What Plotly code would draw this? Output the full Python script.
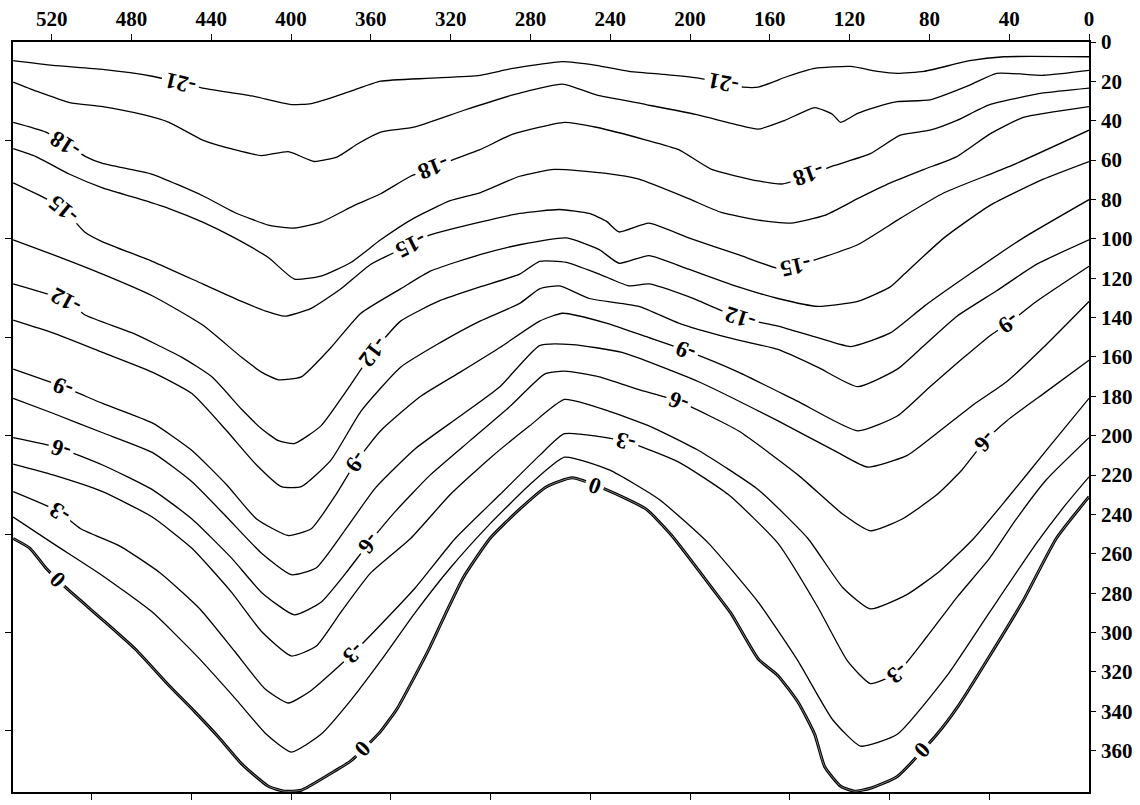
import math
import numpy as np
import plotly.graph_objects as go

# Contour levels drawn on the section (every 1.5, labelled every 3)
levels = [-21, -19.5, -18, -16.5, -15, -13.5, -12, -10.5, -9, -7.5, -6, -4.5, -3, -1.5, 0]

# Each contour: distance along the section and depth
dist_m21 = [539.3, 519.4, 494.5, 469.6, 444.3, 419.8, 399.9, 389.9, 378.5, 368.5, 355.1, 330.2, 305.3, 288.8, 263.9, 247, 230.6, 214.1, 195.7, 173.3, 165.8, 150.9, 137.5, 119.5, 106.1, 96.1, 82.7, 59.8, 42.8, 0]
depth_m21 = [9.5, 11.9, 13.9, 17.4, 23.4, 27.4, 31.8, 31.3, 27.9, 24.4, 19.9, 18.4, 16.9, 13.4, 10, 11.9, 14.9, 16.4, 18.4, 22.9, 22.9, 17.4, 13.4, 12.4, 14.9, 15.9, 14.9, 9.5, 7.5, 7.5]

dist_m195 = [539.3, 527.9, 511, 494.5, 474.6, 461.2, 444.3, 428.3, 414.8, 401.4, 388.4, 376.5, 366.5, 355.1, 338.6, 313.7, 288.8, 263.9, 247, 222, 197.2, 177.3, 165.8, 152.4, 137.5, 128.5, 124.5, 116, 107.6, 96.1, 79.7, 59.8, 46.3, 22.9, 0]
depth_m195 = [20.4, 24.9, 30.8, 32.8, 36.8, 40.8, 49.8, 54.7, 57.7, 55.7, 60.7, 58.2, 51.7, 45.8, 43.3, 34.8, 26.9, 21.4, 26.9, 31.8, 36.8, 41.8, 44.3, 39.8, 33.3, 36.8, 40.8, 36.3, 33.3, 30.3, 29.4, 21.9, 15.9, 16.9, 14.4]

dist_m18 = [539.3, 522.9, 503, 494.5, 469.6, 444.3, 428.3, 411.4, 398.4, 385, 368.5, 355.1, 340.1, 318.7, 305.3, 288.8, 262.9, 247, 222, 205.7, 189.2, 165.8, 153.4, 127.5, 109.6, 94.6, 79.7, 66.2, 49.8, 22.9, 0]
depth_m18 = [40.8, 45.8, 58.2, 61.7, 67.2, 78.1, 86.6, 93, 94.5, 91.5, 83.1, 77.1, 68.2, 59.7, 54.7, 46.8, 40.8, 43.3, 49.8, 54.7, 64.7, 70.6, 72.1, 62.7, 56.7, 47.3, 44.8, 39.8, 31.8, 25.9, 23.4]

dist_m165 = [539.3, 527.9, 511, 494.5, 478, 461.2, 444.3, 428.3, 411.4, 398.4, 385, 370, 355.1, 338.6, 320.2, 305.3, 285.4, 268, 242, 225.6, 200.7, 184.3, 165.8, 149.4, 132.5, 116, 99.6, 82.7, 66.2, 49.8, 32.9, 0]
depth_m165 = [54.2, 58.2, 67.2, 74.1, 79.1, 84.6, 91.5, 99.5, 109.5, 120.4, 118.9, 112, 100.5, 89.6, 80.6, 76.6, 68.2, 64.7, 66.7, 69.7, 79.6, 86.6, 90.5, 92, 88.1, 79.6, 71.6, 64.7, 58.2, 46.8, 38.3, 32.8]

dist_m15 = [539.3, 522.9, 513.4, 503.5, 494.5, 469.6, 444.3, 424.8, 412.4, 403.4, 389.9, 375, 360, 340.1, 330.2, 305.3, 285.4, 265.4, 250.5, 242, 235.6, 220.6, 200.7, 175.8, 155.9, 147.4, 139.4, 116, 94.6, 72.7, 39.8, 0]
depth_m15 = [71.6, 79.6, 85.6, 96.5, 101.5, 111.4, 122.9, 131.8, 136.8, 139.3, 135.3, 125.4, 112.9, 103, 98, 91.5, 87.1, 85.1, 87.1, 91, 96.5, 92, 99.5, 108, 115, 114, 111.4, 103, 89.6, 76.6, 63.2, 44.8]

dist_m135 = [539.3, 519.4, 494.5, 469.6, 444.3, 424.8, 414.8, 406.4, 394.9, 380, 365, 345.1, 330.2, 305.3, 285.4, 262, 245.5, 235.6, 220.6, 200.7, 175.8, 155.9, 136, 116, 99.6, 92.6, 72.7, 49.8, 22.9, 0]
depth_m135 = [100.5, 108, 117.9, 128.9, 143.8, 160.2, 167.7, 171.6, 170.1, 155.2, 137.8, 125.4, 116.4, 108, 103, 99.5, 105.5, 112.4, 108.5, 115.4, 124.4, 130.3, 134.3, 131.8, 124.4, 117.9, 99.5, 83.1, 69.7, 60.7]

dist_m12 = [539.3, 513, 503, 479.6, 454.7, 439.7, 424.8, 414.8, 406.4, 398.4, 385, 372.5, 359, 345.1, 325.2, 305.3, 285.4, 275.4, 262, 245.5, 230.6, 220.6, 200.7, 174.8, 155.9, 136, 119.5, 99.6, 82.7, 59.8, 32.9, 0]
depth_m12 = [122.9, 131.3, 138.8, 147.8, 160.2, 170.1, 186.6, 196.5, 202.5, 204, 195, 177.6, 157.7, 141.8, 131.3, 124.4, 117.9, 111.4, 111.9, 117.9, 123.9, 122.9, 129.4, 140.3, 144.3, 150.2, 154.7, 147.8, 134.3, 117.9, 99.5, 80.1]

dist_m105 = [539.3, 519.4, 494.5, 469.6, 449.7, 432.3, 417.3, 404.9, 394.9, 380, 365, 345.1, 325.2, 305.3, 285.4, 275.4, 265.4, 250.5, 225.6, 205.7, 180.8, 155.9, 136, 116, 96.1, 82.7, 66.2, 46.3, 26.4, 0]
depth_m105 = [141.3, 147.8, 157.7, 167.7, 178.6, 197.5, 214.9, 225.9, 225.9, 212.4, 187.6, 165.2, 152.7, 141.8, 132.8, 125.4, 123.9, 130.3, 134.3, 142.8, 150.2, 156.2, 165.2, 175.1, 166.2, 154.2, 139.3, 126.4, 113, 100.5]

dist_m9 = [539.3, 514.4, 494.5, 469.6, 449.7, 432.3, 417.3, 401.4, 389.9, 377.5, 367.5, 355.1, 335.2, 315.2, 295.3, 275.4, 263.9, 242, 220.6, 202.2, 175.8, 145.9, 116, 96.1, 79.7, 62.7, 49.8, 40.3, 26.4, 0]
depth_m9 = [166.2, 175.1, 183.6, 193.5, 207.5, 224.9, 242.3, 250.7, 247.3, 229.9, 213.4, 197.5, 180.1, 167.7, 155.2, 141.8, 137.8, 142.8, 150.2, 156.7, 167.7, 182.6, 197.5, 190, 175.1, 160.2, 149.3, 142.8, 131.8, 113.9]

dist_m75 = [539.3, 519.4, 494.5, 469.6, 449.7, 432.3, 414.8, 399.9, 387.5, 372.5, 357.6, 337.6, 315.2, 295.3, 275.4, 259, 234.1, 195.7, 155.9, 126, 111.1, 91.1, 74.7, 57.8, 41.3, 22.9, 0]
depth_m75 = [181, 188.6, 198.5, 208.5, 223.4, 241.3, 259.7, 270.6, 267.2, 247.3, 226.4, 206.5, 190, 175.1, 154.2, 153.7, 157.7, 172.6, 192.5, 208.5, 215.9, 210, 197.5, 184.1, 172.6, 155.2, 131.8]

dist_m6 = [539.3, 516.9, 494.5, 469.6, 449.7, 429.8, 414.8, 398.4, 385, 372.5, 361.1, 347.6, 330.2, 310.3, 290.3, 272.9, 262.9, 245.5, 225.6, 205.7, 175.8, 145.9, 123.5, 109.6, 93.6, 76.2, 63.7, 52.3, 41.3, 21.4, 0]
depth_m6 = [201, 206, 214.9, 227.4, 242.3, 262.2, 279.6, 291, 284.6, 269.7, 254.7, 238.3, 219.9, 202.5, 185.1, 168.7, 167.2, 170.1, 176.6, 182.6, 197.5, 219.9, 239.8, 248.3, 242.3, 229.9, 217.4, 202.9, 192.5, 177.6, 161.7]

dist_m45 = [539.3, 519.4, 494.5, 469.6, 449.7, 429.8, 414.8, 399.9, 387.5, 375, 360.1, 340.1, 320.2, 300.3, 280.4, 262.9, 240.5, 220.6, 195.7, 165.8, 140.9, 123.5, 109.6, 91.1, 74.7, 57.8, 41.3, 21.4, 0]
depth_m45 = [214.4, 219.9, 228.4, 241.3, 257.2, 279.6, 299.5, 311.9, 307, 289.6, 269.7, 252.2, 229.9, 211.4, 195, 181.6, 187.6, 195, 207.5, 227.4, 252.2, 277.1, 288, 280.6, 268.7, 252.2, 232.3, 207.5, 181]

dist_m3 = [539.3, 516.9, 505.5, 485.6, 465.6, 445.7, 428.3, 413.3, 401.4, 389.9, 370.5, 355.1, 337.6, 317.7, 295.3, 275.4, 262.9, 232, 205.7, 180.8, 155.9, 136, 121.1, 109.6, 96.1, 81.2, 66.2, 49.8, 36.4, 21.4, 0]
depth_m3 = [228.4, 238.3, 247.3, 256.2, 269.7, 288, 309.5, 328.4, 335.8, 329.4, 311.9, 296, 277.1, 252.2, 229.9, 210, 199, 203, 213.4, 229.9, 254.7, 287, 314.4, 325.9, 320.4, 302, 282.1, 262.2, 242.3, 222.4, 201]

dist_m15b = [539.3, 519.4, 494.5, 469.6, 447.2, 427.3, 412.4, 399.9, 385, 370, 355.1, 337.6, 320.2, 300.3, 280.4, 262.9, 240.5, 215.6, 190.7, 165.8, 145.9, 128.5, 114.5, 96.1, 71.2, 49.8, 26.4, 11.5, 0]
depth_m15b = [241.3, 254.7, 271.1, 289.6, 312, 334.3, 351.7, 360.7, 351.7, 334.3, 314.4, 289.6, 267.2, 244.8, 224.9, 210.9, 217.4, 232.3, 254.7, 284.6, 314.4, 344.3, 357.7, 351.7, 321.9, 289.6, 254.7, 234.8, 220.9]

dist_0 = [539.3, 530.9, 522.9, 513, 494.5, 478, 461.2, 448.2, 436.3, 424.8, 411.4, 403.4, 394.9, 378.5, 370, 355.1, 346.6, 338.6, 330.2, 321.7, 313.7, 300.3, 285.4, 271.9, 259, 242, 222, 209.2, 189.2, 179.3, 165.8, 155.9, 145.9, 137.5, 132.5, 124.5, 117.5, 109.6, 96.1, 76.2, 66.2, 49.8, 32.9, 16.4, 0]
depth_0 = [252.2, 257.2, 267.2, 277.1, 293.5, 308.5, 326.9, 340.3, 353.2, 366.7, 378.1, 380.6, 380.1, 370.6, 365.2, 350.2, 338.3, 323.4, 307, 288.6, 272.1, 252.2, 237.3, 225.9, 221.4, 227.4, 237.3, 250.7, 277.1, 290.5, 313.4, 321.9, 335.3, 351.7, 368.2, 378.1, 380.6, 379.1, 373.1, 351.7, 338.3, 311.9, 283.6, 252.2, 231]

contours = {
    -21: (dist_m21, depth_m21),
    -19.5: (dist_m195, depth_m195),
    -18: (dist_m18, depth_m18),
    -16.5: (dist_m165, depth_m165),
    -15: (dist_m15, depth_m15),
    -13.5: (dist_m135, depth_m135),
    -12: (dist_m12, depth_m12),
    -10.5: (dist_m105, depth_m105),
    -9: (dist_m9, depth_m9),
    -7.5: (dist_m75, depth_m75),
    -6: (dist_m6, depth_m6),
    -4.5: (dist_m45, depth_m45),
    -3: (dist_m3, depth_m3),
    -1.5: (dist_m15b, depth_m15b),
    0: (dist_0, depth_0),
}

# Distances at which each labelled contour carries its value
label_dist = {
    -21: [455.7, 183.3],
    -18: [513.4, 328.7, 140.9],
    -15: [514.4, 340.1, 147.4],
    -12: [513.0, 359.0, 174.8],
    -9: [514.4, 367.5, 202.2, 40.3],
    -6: [515.4, 361.1, 205.7, 52.3],
    -3: [516.0, 369.0, 232.0, 96.1],
    0: [517.0, 364.0, 248.0, 83.7],
}

top_ticks = list(range(0, 521, 40))
right_ticks = list(range(0, 361, 20))
bottom_ticks = list(range(50, 501, 50))
left_ticks = list(range(50, 351, 50))

X_RANGE = [539.4, 0]
Y_RANGE = [381, 0]

W, H = 1140, 805
M = dict(l=10, r=47, t=33, b=7)
sx = (W - M["l"] - M["r"]) / abs(X_RANGE[0] - X_RANGE[1])
sy = (H - M["t"] - M["b"]) / abs(Y_RANGE[0] - Y_RANGE[1])

SERIF = "Liberation Serif"

fig = go.Figure()

for lev in levels:
    xs, ys = contours[lev]
    if lev == 0:
        fig.add_trace(go.Scatter(x=xs, y=ys, mode="lines", hoverinfo="skip",
                                 line=dict(color="black", width=3.0, shape="spline", smoothing=0.5)))
        fig.add_trace(go.Scatter(x=xs, y=ys, mode="lines", hoverinfo="skip",
                                 line=dict(color="#a0a0a0", width=0.8, shape="spline", smoothing=0.5)))
    else:
        fig.add_trace(go.Scatter(x=xs, y=ys, mode="lines", hoverinfo="skip",
                                 line=dict(color="black", width=1.3, shape="spline", smoothing=0.5)))


def depth_at(lev, d):
    xs, ys = contours[lev]
    return float(np.interp(d, xs[::-1], ys[::-1]))


annotations = []
for lev, dlist in label_dist.items():
    for d in dlist:
        y0 = depth_at(lev, d)
        yl = depth_at(lev, d + 5)
        yr = depth_at(lev, d - 5)
        theta = math.degrees(math.atan2((yr - yl) * sy, 10 * sx))
        ang = theta + 180
        if ang > 180:
            ang -= 360
        txt = "0" if lev == 0 else f"{lev:g}"
        annotations.append(dict(
            x=d, y=y0, xref="x", yref="y", text=txt, showarrow=False,
            textangle=ang, bgcolor="white", borderpad=3,
            font=dict(family=SERIF, size=23, color="black", weight="bold"),
        ))

# invisible trace so the secondary axes are laid out
fig.add_trace(go.Scatter(x=[0], y=[0], xaxis="x2", yaxis="y2", mode="markers",
                         marker=dict(opacity=0), hoverinfo="skip"))

axis_font = dict(family=SERIF, size=21, color="black", weight="bold")

fig.update_layout(
    width=W, height=H,
    margin=M,
    paper_bgcolor="white", plot_bgcolor="white",
    showlegend=False,
    annotations=annotations,
    xaxis=dict(range=X_RANGE, showgrid=False, zeroline=False, showline=True,
               linecolor="black", linewidth=1.6, ticks="outside", ticklen=6,
               tickwidth=1.2, tickcolor="black", tickvals=bottom_ticks,
               showticklabels=False, side="bottom", anchor="y"),
    xaxis2=dict(range=X_RANGE, overlaying="x", side="top", anchor="y",
                showgrid=False, zeroline=False, showline=True, linecolor="black",
                linewidth=1.6, ticks="outside", ticklen=6, tickwidth=1.2,
                tickcolor="black", tickvals=top_ticks, tickfont=axis_font),
    yaxis=dict(range=Y_RANGE, showgrid=False, zeroline=False, showline=True,
               linecolor="black", linewidth=1.6, ticks="outside", ticklen=5,
               tickwidth=1.2, tickcolor="black", tickvals=right_ticks,
               tickfont=axis_font, side="right", anchor="x", ticklabelstandoff=1),
    yaxis2=dict(range=Y_RANGE, overlaying="y", side="left", anchor="x",
                showgrid=False, zeroline=False, showline=True, linecolor="black",
                linewidth=1.6, ticks="outside", ticklen=6, tickwidth=1.2,
                tickcolor="black", tickvals=left_ticks, showticklabels=False),
)

fig.write_html("out.html")
